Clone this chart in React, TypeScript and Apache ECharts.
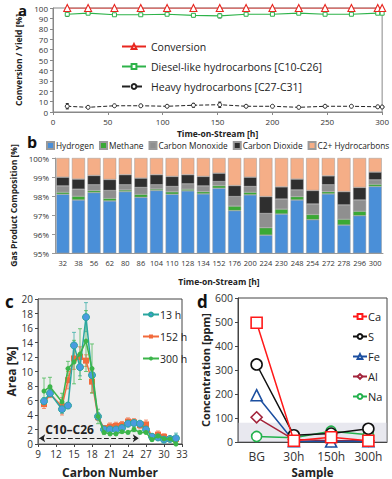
import React, { useEffect, useRef } from "react";
import * as echarts from "echarts";

const FONT = "'Open Sans', 'DejaVu Sans', sans-serif";

// ---------- Panel a ----------
const timeA = [13, 32, 56, 80, 104, 128, 152, 176, 200, 224, 248, 272, 296, 300];
const conversion = [100, 100, 100, 100, 100, 100, 100, 100, 100, 100, 100, 100, 100, 100];
const diesel = [94, 95, 93.5, 93.5, 94, 93, 92.5, 94, 94, 95, 94, 94, 95, 95];
const dieselErr = [2, 0, 0, 0, 0, 1.5, 2, 0, 0, 0, 0, 0, 0, 0];
const heavy = [5.5, 4.5, 6, 6, 5.5, 6.5, 7, 5.5, 5.5, 4.5, 5.5, 5.5, 5, 4.8];
const heavyErr = [2.5, 0, 0, 0.8, 0, 1.8, 2.5, 0, 0, 0, 0, 0, 0, 0];

// ---------- Panel b ----------
const timeB = ["32", "38", "56", "62", "80", "86", "104", "110", "128", "134", "152", "176", "200", "224", "230", "248", "254", "272", "278", "296", "300"];
const hydrogen = [98.09, 97.79, 98.18, 97.74, 98.23, 97.93, 98.29, 98.09, 98.27, 98.11, 98.41, 97.23, 98.06, 95.94, 97.05, 97.79, 96.75, 98.11, 96.47, 96.96, 98.5];
const methane = [0.11, 0.2, 0.11, 0.14, 0.09, 0.16, 0.08, 0.13, 0.09, 0.12, 0.14, 0.24, 0.14, 0.39, 0.26, 0.18, 0.28, 0.12, 0.31, 0.24, 0.12];
const carbonMonoxide = [0.33, 0.37, 0.3, 0.41, 0.27, 0.36, 0.22, 0.28, 0.28, 0.3, 0.21, 0.5, 0.3, 0.75, 0.53, 0.35, 0.55, 0.36, 0.75, 0.59, 0.23];
const carbonDioxide = [0.46, 0.53, 0.49, 0.58, 0.53, 0.49, 0.53, 0.53, 0.48, 0.5, 0.44, 0.58, 0.49, 0.89, 0.64, 0.57, 0.71, 0.47, 0.7, 0.66, 0.41];
const c2Plus = [1.01, 1.11, 0.92, 1.13, 0.88, 1.06, 0.88, 0.97, 0.88, 0.97, 0.8, 1.45, 1.01, 2.03, 1.52, 1.11, 1.71, 0.94, 1.77, 1.55, 0.74];

// ---------- Panel c ----------
const carbonNo = [10, 11, 13, 14, 15, 16, 17, 18, 19, 20, 21, 22, 23, 24, 25, 26, 27, 28, 29, 30, 31, 32];
const area13 = [5.9, 7.0, 4.8, 5.3, 13.6, 10.6, 17.5, 9.5, 3.8, 2.0, 2.0, 2.0, 2.2, 2.8, 2.9, 2.8, 2.0, 1.0, 0.9, 0.6, 0.7, 0.8];
const err13 = [0.5, 0.5, 0.6, 0.4, 1.8, 1.2, 2.0, 1.0, 0.5, 0.3, 0.3, 0.3, 0.3, 0.3, 0.3, 0.3, 0.3, 0.3, 0.3, 0.3, 0.3, 0.7];
const area152 = [5.5, 6.9, 5.2, 8.8, 11.8, 12.0, 11.5, 8.6, 3.7, 2.2, 2.4, 2.5, 2.6, 3.1, 3.0, 2.6, 2.7, 1.0, 1.3, 1.0, 0.7, 0.7];
const err152 = [0.6, 0.5, 1.2, 1.2, 1.5, 1.4, 0.8, 1.5, 0.4, 0.3, 0.5, 0.5, 0.5, 0.5, 0.5, 0.5, 0.6, 0.4, 0.5, 0.4, 0.3, 0.3];
const area300 = [7.3, 7.9, 5.8, 10.4, 11.3, 12.4, 14.2, 10.4, 3.8, 1.6, 1.4, 1.4, 1.7, 1.6, 2.0, 1.6, 1.6, 0.6, 1.1, 0.7, 0.7, 0.0];
const err300 = [1.8, 1.3, 1.2, 1.0, 3.0, 3.5, 4.2, 3.4, 1.0, 0.3, 0.2, 0.2, 0.2, 0.2, 0.3, 0.2, 0.2, 0.2, 0.3, 0.2, 0.2, 0.1];

// ---------- Panel d ----------
const samples = ["BG", "30h", "150h", "300h"];
const ca = [497, 5, 20, 5];
const sulfur = [323, 28, 35, 55];
const fe = [195, 3, 2, 3];
const al = [103, 10, 5, 5];
const na = [23, 18, 45, 30];

const errRender = (color: string, cap: number) => (params: any, api: any) => {
  const x = api.value(0);
  const lo = api.value(1);
  const hi = api.value(2);
  const p1 = api.coord([x, lo]);
  const p2 = api.coord([x, hi]);
  const style = { stroke: color, lineWidth: 1 };
  return {
    type: "group",
    children: [
      { type: "line", shape: { x1: p1[0], y1: p1[1], x2: p2[0], y2: p2[1] }, style },
      { type: "line", shape: { x1: p1[0] - cap, y1: p1[1], x2: p1[0] + cap, y2: p1[1] }, style },
      { type: "line", shape: { x1: p2[0] - cap, y1: p2[1], x2: p2[0] + cap, y2: p2[1] }, style },
    ],
  };
};

const errData = (xs: number[], ys: number[], es: number[]) =>
  xs.map((x, i) => [x, Math.max(0, ys[i] - es[i]), ys[i] + es[i]]).filter((_, i) => es[i] > 0);

const pair = (xs: number[], ys: number[]) => xs.map((x, i) => [x, ys[i]]);

export default function App() {
  const ref = useRef<HTMLDivElement>(null);
  useEffect(() => {
    if (!ref.current) return;
    const chart = echarts.init(ref.current, undefined, { renderer: "svg" });
    const tickLabel = (size: number) => ({ fontSize: size, color: "#333", fontFamily: FONT });
    const nameStyle = (size: number) => ({ fontSize: size, fontWeight: "bold" as const, color: "#222", fontFamily: FONT });

    const option: any = {
      animation: false,
      textStyle: { fontFamily: FONT },
      grid: [
        { left: 53, top: 8, width: 330, height: 104, show: true, borderColor: "#888", borderWidth: 1 },
        { left: 55, top: 158, width: 328, height: 95 },
        { left: 38, top: 299, width: 144, height: 145, show: true, borderColor: "#444", borderWidth: 1 },
        { left: 238, top: 298, width: 149, height: 146, show: true, borderColor: "#444", borderWidth: 1 },
      ],
      xAxis: [
        {
          gridIndex: 0, type: "value", min: 0, max: 300, interval: 50,
          name: "Time-on-Stream [h]", nameLocation: "middle", nameGap: 17, nameTextStyle: nameStyle(8.5),
          axisLine: { lineStyle: { color: "#888" } }, axisTick: { length: 3, lineStyle: { color: "#888" } },
          axisLabel: { ...tickLabel(8), margin: 5 }, splitLine: { show: false },
        },
        {
          gridIndex: 1, type: "category", data: timeB,
          name: "Time-on-Stream [h]", nameLocation: "middle", nameGap: 24, nameTextStyle: nameStyle(8.5),
          axisLine: { lineStyle: { color: "#999" } }, axisTick: { length: 3, lineStyle: { color: "#999" } },
          axisLabel: { ...tickLabel(7.5), interval: 0, margin: 6 },
        },
        {
          gridIndex: 2, type: "value", min: 9, max: 33, interval: 3,
          name: "Carbon Number", nameLocation: "middle", nameGap: 22, nameTextStyle: nameStyle(12),
          axisLine: { lineStyle: { color: "#444" } }, axisTick: { length: 3, lineStyle: { color: "#444" } },
          axisLabel: { ...tickLabel(10), margin: 5 }, splitLine: { show: false },
        },
        {
          gridIndex: 3, type: "category", data: samples,
          name: "Sample", nameLocation: "middle", nameGap: 24, nameTextStyle: nameStyle(11.5),
          axisLine: { lineStyle: { color: "#444" } }, axisTick: { show: false },
          axisLabel: { ...tickLabel(12), margin: 8 },
        },
      ],
      yAxis: [
        {
          gridIndex: 0, type: "value", min: 0, max: 100, interval: 10,
          name: "Conversion / Yield [%]", nameLocation: "middle", nameGap: 29, nameTextStyle: nameStyle(8.5),
          axisLine: { show: true, lineStyle: { color: "#888" } }, axisTick: { show: true, length: 3, lineStyle: { color: "#888" } },
          axisLabel: { ...tickLabel(8), margin: 5 }, splitLine: { show: false },
        },
        {
          gridIndex: 1, type: "value", min: 95, max: 100, interval: 1,
          name: "Gas Product Composition [%]", nameLocation: "middle", nameGap: 36, nameTextStyle: nameStyle(8.5),
          axisLine: { show: true, lineStyle: { color: "#999" } }, axisTick: { show: true, length: 3, lineStyle: { color: "#999" } },
          axisLabel: { ...tickLabel(8), margin: 6, formatter: "{value}%" }, splitLine: { show: false },
        },
        {
          gridIndex: 2, type: "value", min: 0, max: 20, interval: 2,
          name: "Area [%]", nameLocation: "middle", nameGap: 20, nameTextStyle: nameStyle(12),
          axisLine: { show: true, lineStyle: { color: "#444" } }, axisTick: { show: true, length: 3, lineStyle: { color: "#444" } },
          axisLabel: { ...tickLabel(10), margin: 5 }, splitLine: { show: false },
        },
        {
          gridIndex: 3, type: "value", min: 0, max: 600, interval: 100,
          name: "Concentration [ppm]", nameLocation: "middle", nameGap: 27, nameTextStyle: nameStyle(11),
          axisLine: { show: true, lineStyle: { color: "#444" } }, axisTick: { show: true, length: 3, lineStyle: { color: "#444" } },
          axisLabel: { ...tickLabel(10.5), margin: 5 }, splitLine: { show: false },
        },
      ],
      legend: [
        {
          data: ["Conversion", "Diesel-like hydrocarbons [C10-C26]", "Heavy hydrocarbons [C27-C31]"],
          orient: "vertical", left: 116, top: 36, itemGap: 9, itemWidth: 24, itemHeight: 6,
          textStyle: { fontSize: 10.5, color: "#222", fontFamily: FONT },
        },
        {
          data: ["Hydrogen", "Methane", "Carbon Monoxide", "Carbon Dioxide", "C2+ Hydrocarbons"],
          orient: "horizontal", left: 46, top: 141, width: 346, padding: 0, itemGap: 5, itemWidth: 7, itemHeight: 7, icon: "rect",
          textStyle: { fontSize: 8.3, color: "#222", fontFamily: FONT, padding: [0, 0, 0, -3] },
        },
        {
          data: ["13 h", "152 h", "300 h"],
          orient: "vertical", left: 137, top: 304, itemGap: 11, itemWidth: 16, itemHeight: 5,
          textStyle: { fontSize: 10.5, color: "#222", fontFamily: FONT, padding: [0, 0, 0, -4] },
        },
        {
          data: ["Ca", "S", "Fe", "Al", "Na"],
          orient: "vertical", left: 347, top: 306, itemGap: 9, itemWidth: 14, itemHeight: 6,
          textStyle: { fontSize: 11, color: "#222", fontFamily: FONT, padding: [0, 0, 0, -4] },
        },
      ],
      graphic: [
        { type: "text", left: 18, top: 2, style: { text: "a", fontSize: 15, fontWeight: "bold", fill: "#111", fontFamily: FONT } },
        { type: "text", left: 27, top: 134, style: { text: "b", fontSize: 16, fontWeight: "bold", fill: "#111", fontFamily: FONT } },
        { type: "text", left: 5, top: 293, style: { text: "c", fontSize: 17, fontWeight: "bold", fill: "#111", fontFamily: FONT } },
        { type: "text", left: 197, top: 293, style: { text: "d", fontSize: 17, fontWeight: "bold", fill: "#111", fontFamily: FONT } },
      ],
      series: [
        // panel a
        {
          name: "Heavy hydrocarbons [C27-C31]", type: "line", xAxisIndex: 0, yAxisIndex: 0,
          data: pair(timeA, heavy), symbol: "circle", symbolSize: 4,
          itemStyle: { color: "#fff", borderColor: "#222", borderWidth: 1 },
          lineStyle: { color: "#222", width: 1, type: "dashed" },
        },
        {
          name: "Diesel-like hydrocarbons [C10-C26]", type: "line", xAxisIndex: 0, yAxisIndex: 0,
          data: pair(timeA, diesel), symbol: "rect", symbolSize: 4,
          itemStyle: { color: "#fff", borderColor: "#2eb34a", borderWidth: 1 },
          lineStyle: { color: "#2eb34a", width: 1.2 },
        },
        {
          name: "Conversion", type: "line", xAxisIndex: 0, yAxisIndex: 0,
          data: pair(timeA, conversion), symbol: "triangle", symbolSize: 7,
          itemStyle: { color: "#fff", borderColor: "#e8261f", borderWidth: 1.1 },
          lineStyle: { color: "#e8261f", width: 1.2 },
        },
        {
          type: "custom", xAxisIndex: 0, yAxisIndex: 0, renderItem: errRender("#111", 1.5),
          data: errData(timeA, heavy, heavyErr), encode: { x: 0, y: [1, 2] }, silent: true, z: 1,
        },
        {
          type: "custom", xAxisIndex: 0, yAxisIndex: 0, renderItem: errRender("#111", 1.5),
          data: errData(timeA, diesel, dieselErr), encode: { x: 0, y: [1, 2] }, silent: true, z: 1,
        },
        // panel b
        ...[
          ["Hydrogen", hydrogen, "#4a8fd8"],
          ["Methane", methane, "#3aa935"],
          ["Carbon Monoxide", carbonMonoxide, "#8f8f8f"],
          ["Carbon Dioxide", carbonDioxide, "#2f2f2f"],
          ["C2+ Hydrocarbons", c2Plus, "#f5ae87"],
        ].map(([name, data, color]) => ({
          name, type: "bar", stack: "gas", xAxisIndex: 1, yAxisIndex: 1, data,
          barCategoryGap: "16%",
          itemStyle: { color, borderColor: "#9a9a9a", borderWidth: 0.5 },
        })),
        // panel c
        {
          name: "13 h", type: "line", xAxisIndex: 2, yAxisIndex: 2, data: pair(carbonNo, area13),
          symbol: "circle", symbolSize: 7,
          itemStyle: { color: "#4a9be0", borderColor: "#2aa6a0", borderWidth: 1 },
          lineStyle: { color: "#2aa6a0", width: 1.5 },
          markArea: {
            silent: true, itemStyle: { color: "rgba(200,200,200,0.3)" },
            data: [[{ xAxis: 9 }, { xAxis: 26 }]],
          },
          z: 3,
        },
        {
          name: "152 h", type: "line", xAxisIndex: 2, yAxisIndex: 2, data: pair(carbonNo, area152),
          symbol: "rect", symbolSize: 6,
          itemStyle: { color: "#f26b3c" },
          lineStyle: { color: "#f26b3c", width: 1.5 },
          z: 2,
        },
        {
          name: "300 h", type: "line", xAxisIndex: 2, yAxisIndex: 2, data: pair(carbonNo, area300),
          symbol: "circle", symbolSize: 5,
          itemStyle: { color: "#3cb54a" },
          lineStyle: { color: "#3cb54a", width: 1.5 },
          markLine: {
            silent: true, symbol: ["arrow", "arrow"], symbolSize: 6,
            lineStyle: { type: "dashed", color: "#222", width: 1.2 },
            label: {
              show: true, position: "insideStartTop", formatter: "C10–C26",
              fontSize: 12, fontWeight: "bold", color: "#222", fontFamily: FONT, distance: [6, 3],
            },
            data: [[{ coord: [9.2, 0.8] }, { coord: [25.8, 0.8] }]],
          },
          z: 4,
        },
        {
          type: "custom", xAxisIndex: 2, yAxisIndex: 2, renderItem: errRender("rgba(42,166,160,0.7)", 2),
          data: errData(carbonNo, area13, err13), encode: { x: 0, y: [1, 2] }, silent: true, z: 1,
        },
        {
          type: "custom", xAxisIndex: 2, yAxisIndex: 2, renderItem: errRender("rgba(242,107,60,0.7)", 2),
          data: errData(carbonNo, area152, err152), encode: { x: 0, y: [1, 2] }, silent: true, z: 1,
        },
        {
          type: "custom", xAxisIndex: 2, yAxisIndex: 2, renderItem: errRender("rgba(60,181,74,0.7)", 2),
          data: errData(carbonNo, area300, err300), encode: { x: 0, y: [1, 2] }, silent: true, z: 1,
        },
        // panel d
        ...[
          ["Ca", ca, "#ff1a1a", "rect", 11],
          ["S", sulfur, "#111111", "circle", 11],
          ["Fe", fe, "#1c4fa0", "triangle", 11],
          ["Al", al, "#a3243b", "diamond", 11],
          ["Na", na, "#22b14c", "circle", 10],
        ].map(([name, data, color, symbol, size], i) => ({
          name, type: "line", xAxisIndex: 3, yAxisIndex: 3, data,
          symbol, symbolSize: size,
          itemStyle: { color: "#fff", borderColor: color, borderWidth: 1.6 },
          lineStyle: { color, width: 1.5 },
          z: 5 - i,
          ...(i === 0
            ? {
                markArea: {
                  silent: true, itemStyle: { color: "rgba(205,205,220,0.45)" },
                  data: [[{ yAxis: 0 }, { yAxis: 80 }]],
                },
              }
            : {}),
        })),
      ],
    };
    chart.setOption(option);
    return () => chart.dispose();
  }, []);
  return <div ref={ref} style={{ width: 392, height: 479, position: "absolute", left: 0, top: 0, background: "#fff" }} />;
}
